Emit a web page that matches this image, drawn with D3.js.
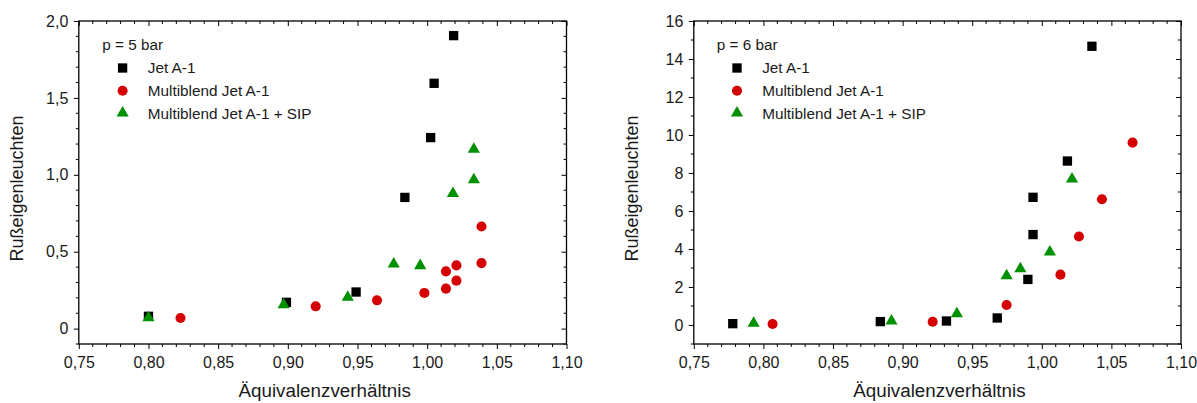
<!DOCTYPE html>
<html><head><meta charset="utf-8">
<script src="https://cdn.jsdelivr.net/npm/d3@7"></script>
<style>body{margin:0;background:#fff}svg{display:block}text{font-family:"Liberation Sans",Arial,sans-serif;fill:#1a1a1a}</style>
</head><body>
<svg id="c" width="1197" height="403"></svg>
<script>
// Left panel (p = 5 bar)
const jetA1_5_x = [0.800,0.899,0.949,0.984,1.0025,1.005,1.019];
const jetA1_5_y = [0.08,0.171,0.238,0.853,1.242,1.595,1.905];
const mb_5_x = [0.823,0.920,0.964,0.998,1.0135,1.0135,1.021,1.021,1.039,1.039];
const mb_5_y = [0.069,0.145,0.184,0.232,0.26,0.372,0.312,0.411,0.426,0.664];
const sip_5_x = [0.800,0.897,0.943,0.976,0.995,1.0185,1.0335,1.0335];
const sip_5_y = [0.077,0.162,0.210,0.426,0.416,0.885,0.974,1.173];
// Right panel (p = 6 bar)
const jetA1_6_x = [0.778,0.884,0.9315,0.968,0.990,0.9937,0.9937,1.0184,1.036];
const jetA1_6_y = [0.07,0.18,0.21,0.37,2.40,4.76,6.72,8.63,14.67];
const mb_6_x = [0.8066,0.9216,0.9747,1.0134,1.0267,1.0432,1.0652];
const mb_6_y = [0.05,0.17,1.05,2.65,4.66,6.62,9.6];
const sip_6_x = [0.793,0.892,0.939,0.9747,0.9846,1.0058,1.0217];
const sip_6_y = [0.15,0.26,0.65,2.65,3.01,3.89,7.74];

const seriesNames = ["Jet A-1","Multiblend Jet A-1","Multiblend Jet A-1 + SIP"];
const xTicks = [0.75,0.80,0.85,0.90,0.95,1.00,1.05,1.10];
const yTicks5 = [0,0.5,1.0,1.5,2.0];
const yTicks6 = [0,2,4,6,8,10,12,14,16];
const xTitle = "Äquivalenzverhältnis";
const yTitle = "Rußeigenleuchten";

const svg = d3.select("#c");
const fmtX = d => d3.format(".2f")(d).replace(".",",");
const fmt5 = d => d===0 ? "0" : d3.format(".1f")(d).replace(".",",");
const fmt6 = d => String(d);

function panel(opt){
  const g = svg.append("g");
  const x = d3.scaleLinear().domain([0.75,1.10]).range([opt.left,opt.right]);
  const y = d3.scaleLinear().domain(opt.ydom).range([344,21]);
  g.append("rect").attr("x",opt.left).attr("y",21).attr("width",opt.right-opt.left).attr("height",323)
    .attr("fill","none").attr("stroke","#000").attr("stroke-width",1.3);
  const xMinor = d3.range(75,111,1).map(v=>v/100).filter(v=>Math.abs(v*20-Math.round(v*20))>1e-6);
  const yMinor = d3.range(opt.ydom[0], opt.ydom[1]+1e-9, opt.yminor).map(v=>+v.toFixed(4)).filter(v=>!opt.yticks.some(t=>Math.abs(t-v)<1e-6));
  const bx = g.append("g").attr("transform",`translate(0,344)`)
    .call(d3.axisBottom(x).tickValues(xTicks).tickFormat(fmtX).tickSize(5).tickPadding(7.5));
  bx.append("g").selectAll("line").data(xMinor).join("line").attr("x1",d=>x(d)).attr("x2",d=>x(d)).attr("y1",0).attr("y2",3).attr("stroke","#000");
  const tx = g.append("g").attr("transform",`translate(0,21)`)
    .call(d3.axisBottom(x).tickValues(xTicks).tickFormat("").tickSize(5));
  tx.append("g").selectAll("line").data(xMinor).join("line").attr("x1",d=>x(d)).attr("x2",d=>x(d)).attr("y1",0).attr("y2",3).attr("stroke","#000");
  const ly = g.append("g").attr("transform",`translate(${opt.left},0)`)
    .call(d3.axisLeft(y).tickValues(opt.yticks).tickFormat(opt.fmt).tickSize(5).tickPadding(5.5));
  ly.append("g").selectAll("line").data(yMinor).join("line").attr("y1",d=>y(d)).attr("y2",d=>y(d)).attr("x1",0).attr("x2",-3).attr("stroke","#000");
  const ry = g.append("g").attr("transform",`translate(${opt.right},0)`)
    .call(d3.axisLeft(y).tickValues(opt.yticks).tickFormat("").tickSize(5));
  ry.append("g").selectAll("line").data(yMinor).join("line").attr("y1",d=>y(d)).attr("y2",d=>y(d)).attr("x1",0).attr("x2",-3).attr("stroke","#000");
  g.selectAll(".domain").remove();
  g.selectAll(".tick line").attr("stroke","#000");
  g.selectAll(".tick text").style("font-family","'Liberation Sans',Arial,sans-serif").style("font-size","16px").attr("fill","#1a1a1a");
  g.append("text").attr("x",(opt.left+opt.right)/2+2).attr("y",397).attr("text-anchor","middle").style("font-size","18.8px").text(xTitle);
  g.append("text").attr("transform",`translate(${opt.left-55.5},${(21+344)/2+6}) rotate(-90)`).attr("text-anchor","middle").style("font-size","18px").text(yTitle);
  const sq = d3.symbol().type(d3.symbolSquare).size(87);
  const ci = d3.symbol().type(d3.symbolCircle).size(80);
  const tr = d3.symbol().type(d3.symbolTriangle).size(64);
  const data = opt.series;
  const sym = [sq,ci,tr], col=["#000000","#d40000","#009100"];
  [0,1,2].forEach(i=>{
    const pts = data[i][0].map((vx,k)=>[vx,data[i][1][k]]);
    g.append("g").selectAll("path").data(pts).join("path")
      .attr("d",sym[i]()).attr("transform",d=>`translate(${x(d[0])},${y(d[1])+(i===2?1:0)})`).attr("fill",col[i]);
  });
  const lg = g.append("g");
  lg.append("text").attr("x",opt.lx).attr("y",50).style("font-size","15.3px").text(opt.label);
  seriesNames.forEach((n,i)=>{
    const yy = 68 + i*22.7;
    lg.append("path").attr("d",sym[i]()).attr("transform",`translate(${opt.lx+20.3},${yy+(i===2?-0.5:0)})`).attr("fill",col[i]);
    lg.append("text").attr("x",opt.lx+45.5).attr("y",yy+5.3).style("font-size","15.3px").text(n);
  });
}

panel({left:78.8,right:566.5,ydom:[-0.1,2.0],yticks:yTicks5,yminor:0.1,fmt:fmt5,label:"p = 5 bar",lx:102.3,
  series:[[jetA1_5_x,jetA1_5_y],[mb_5_x,mb_5_y],[sip_5_x,sip_5_y]]});
panel({left:693.8,right:1181,ydom:[-1,16],yticks:yTicks6,yminor:1,fmt:fmt6,label:"p = 6 bar",lx:716.7,
  series:[[jetA1_6_x,jetA1_6_y],[mb_6_x,mb_6_y],[sip_6_x,sip_6_y]]});
</script>
</body></html>
